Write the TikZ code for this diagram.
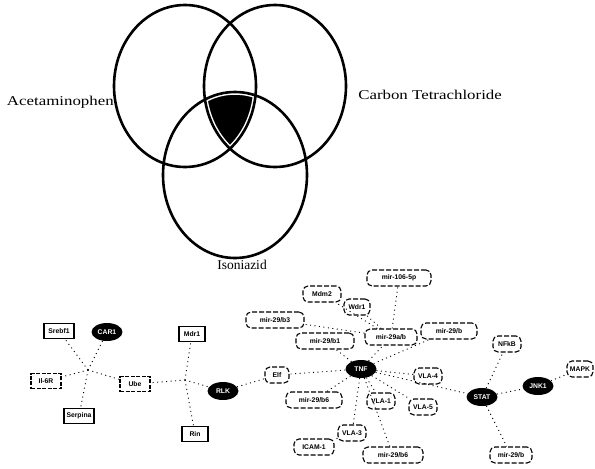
\documentclass[tikz,border=0pt]{standalone}
\usepackage{fontspec}
\setmainfont{Liberation Serif}
\setsansfont{Liberation Sans}
\usetikzlibrary{shapes.geometric}
\tikzset{
  venn/.style={draw=black, line width=2.6pt},
  vlabel/.style={font=\fontsize{13.5}{14}\selectfont, inner sep=0pt},
  netfont/.style={font=\sffamily\bfseries\fontsize{6.8}{7}\selectfont},
  gbox/.style={draw=black, line width=1.3pt, rectangle, minimum width=30pt, minimum height=15pt, inner sep=2pt, netfont},
  dbox/.style={gbox, dash pattern=on 4pt off 1.5pt},
  rbox/.style={draw=black, line width=1.1pt, dash pattern=on 5pt off 2pt, rounded corners=5pt, minimum height=16pt, minimum width=28pt, inner sep=2.5pt, netfont},
  bell/.style={ellipse, fill=black, text=white, minimum width=31pt, minimum height=18pt, inner sep=0.5pt, netfont},
  edge/.style={draw=black, line width=0.9pt, dash pattern=on 1pt off 3.5pt}
}
\begin{document}
\begin{tikzpicture}[x=1pt,y=-1pt]
\useasboundingbox (0,0) rectangle (595,469);
% ---------- Venn ----------
\coordinate (cA) at (185,86);
\coordinate (cC) at (275,86);
\coordinate (cI) at (235,175);
\begin{scope}
  \clip (cA) ellipse [x radius=71, y radius=81];
  \clip (cC) ellipse [x radius=71, y radius=81];
  \clip (cI) ellipse [x radius=72, y radius=83];
  \fill[black] (0,0) rectangle (595,469);
  \draw[white, line width=5.5pt] (cA) ellipse [x radius=71, y radius=81];
  \draw[white, line width=5.5pt] (cC) ellipse [x radius=71, y radius=81];
  \draw[white, line width=5.5pt] (cI) ellipse [x radius=72, y radius=83];
\end{scope}
\draw[venn] (cA) ellipse [x radius=71, y radius=81];
\draw[venn] (cC) ellipse [x radius=71, y radius=81];
\draw[venn] (cI) ellipse [x radius=72, y radius=83];
\node[vlabel, anchor=east, xscale=1.25] (lA) at (114,102) {Acetaminophen};
\node[vlabel, anchor=west, xscale=1.25] (lC) at (358,95) {Carbon Tetrachloride};
\node[vlabel] (lI) at (242,265) {Isoniazid};
% ---------- Network ----------
% cluster 1
\coordinate (h1) at (88,370);
\node[gbox] (srebf) at (59,331) {Srebf1};
\node[bell] (car) at (107,332) {CAR1};
\node[dbox] (il) at (46,381) {Il-6R};
\node[gbox] (serp) at (79,416) {Serpina};
\node[dbox] (ube) at (135,384) {Ube};
% cluster 2
\coordinate (h2) at (185,380);
\node[gbox, minimum width=26pt] (mdr) at (192,334) {Mdr1};
\node[gbox, minimum width=26pt] (rin) at (195,434) {Rin};
\node[bell] (rlk) at (223,391) {RLK};
\node[rbox, minimum width=24pt] (elf) at (277,375) {Elf};
% cluster 3
\node[bell] (tnf) at (361,369) {TNF};
\node[rbox, minimum width=64pt] (mtop) at (399,278) {mir-106-5p};
\node[rbox, minimum width=38pt] (mdm) at (322,294) {Mdm2};
\node[rbox, minimum width=26pt] (wdr) at (357,307) {Wdr1};
\node[rbox, minimum width=58pt] (mb3) at (275,320) {mir-29/b3};
\node[rbox, minimum width=58pt] (mb1) at (325,341) {mir-29/b1};
\node[rbox, minimum width=52pt] (mbc) at (391,337) {mir-29a/b};
\node[rbox, minimum width=56pt] (mri) at (449,331) {mir-29/b};
\node[rbox] (vla4) at (428,376) {VLA-4};
\node[rbox, minimum width=56pt] (mb6) at (314,400) {mir-29/b6};
\node[rbox] (vla1) at (381,401) {VLA-1};
\node[rbox] (vla5) at (423,407) {VLA-5};
\node[rbox] (vla3) at (352,433) {VLA-3};
\node[rbox, minimum width=40pt] (icam) at (314,447) {ICAM-1};
\node[rbox, minimum width=60pt] (mbo) at (393,455) {mir-29/b6};
\node[rbox] (nfkb) at (507,344) {NFkB};
\node[rbox, minimum width=26pt] (mapk) at (580,369) {MAPK};
\node[bell] (stat) at (482,397) {STAT};
\node[bell] (jnk) at (538,386) {JNK1};
\node[rbox, minimum width=42pt] (mbr) at (511,455) {mir-29/b};
% edges
\foreach \n in {srebf,car,il,serp,ube} \draw[edge] (h1) -- (\n);
\foreach \n in {mdr,ube,rin,rlk} \draw[edge] (h2) -- (\n);
\draw[edge] (rlk) -- (elf);
\foreach \n in {elf,mb1,mbc,mri,vla4,mb6,vla1,vla5,vla3,mbo,stat} \draw[edge] (tnf) -- (\n);
\foreach \n in {mtop,wdr,mdm,mb3} \draw[edge] (mbc) -- (\n);
\draw[edge] (vla3) -- (icam);
\foreach \n in {nfkb,jnk,mbr} \draw[edge] (stat) -- (\n);
\draw[edge] (jnk) -- (mapk);
\end{tikzpicture}
\end{document}
